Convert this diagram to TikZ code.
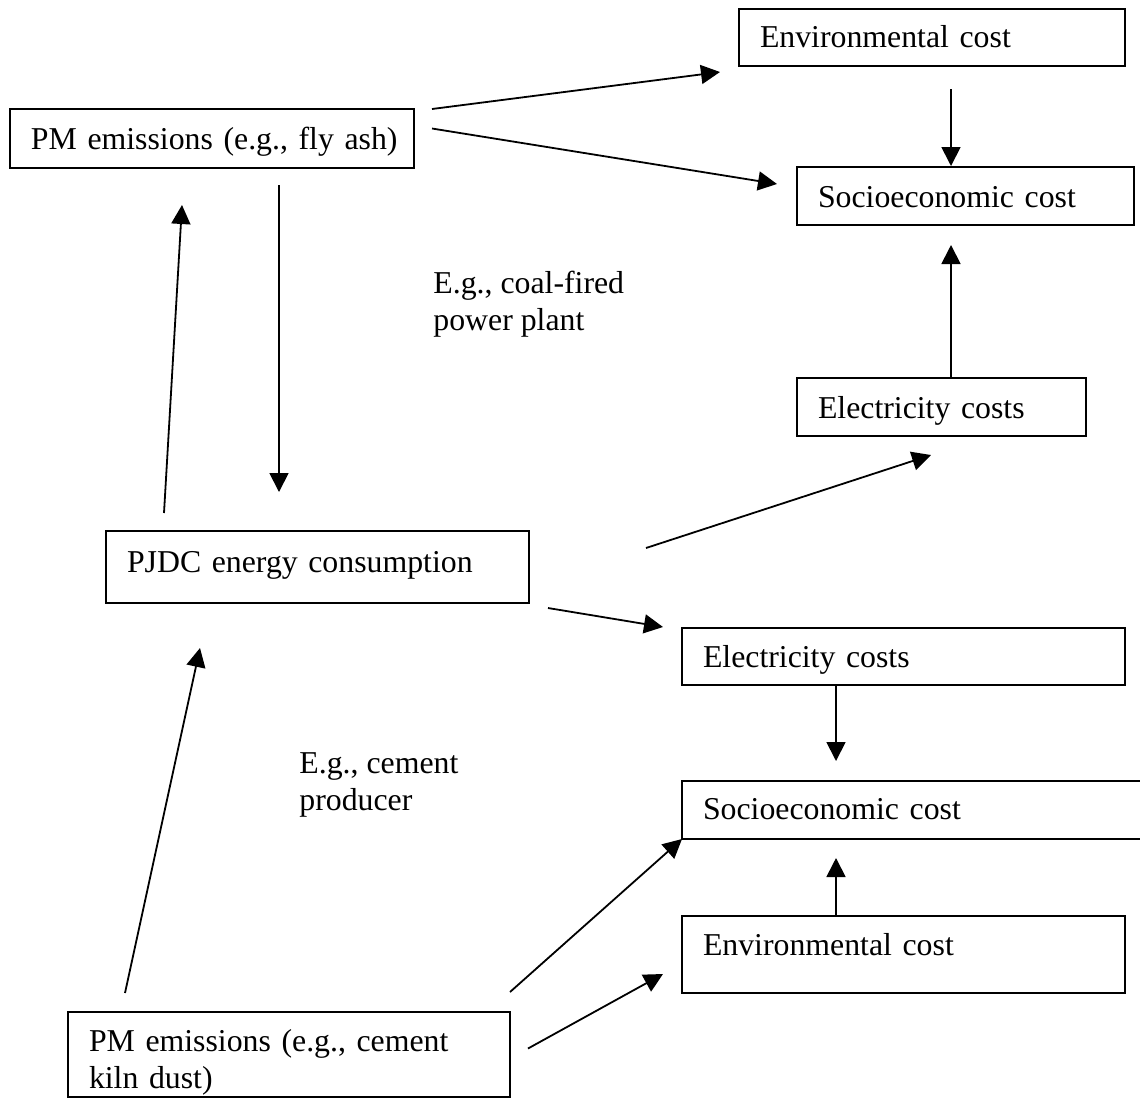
\documentclass[tikz,border=0pt]{standalone}
\usepackage{fontspec}
\setmainfont{Liberation Serif}
\usetikzlibrary{arrows.meta,calc}

\begin{document}
\begin{tikzpicture}[x=0.5pt,y=0.5pt,
  box/.style={draw,line width=0.9pt,outer sep=0pt,anchor=north west,align=left,inner xsep=10.5pt,inner ysep=0pt,font=\fontsize{15.9}{18.5}\selectfont},
  note/.style={anchor=base west,align=left,inner sep=0pt,font=\fontsize{15.9}{18.5}\selectfont},
  arr/.style={-{Triangle[length=9.5pt,width=9.5pt]},line width=0.9pt}]
\useasboundingbox (0,0) rectangle (1140,-1099);
\clip (0,0) rectangle (1140,-1099);
\node[box,text width=172pt,text height=19pt,text depth=9.5pt] (envtop) at (739,-9) {Environmental cost};
\node[box,text width=181pt,text height=20pt,text depth=9.5pt] (fly) at (10,-109) {\mbox{PM emissions (e.g., fly ash)}};
\node[box,text width=147.5pt,text height=20pt,text depth=9pt] (soctop) at (797,-167) {Socioeconomic cost};
\node[box,text width=123.5pt,text height=20pt,text depth=9pt] (elecr) at (797,-378) {Electricity costs};
\node[box,text width=190.5pt,text height=20.5pt,text depth=15.5pt] (pjdc) at (106,-531) {PJDC energy consumption};
\node[box,text width=200.5pt,text height=19.5pt,text depth=9pt] (elecm) at (682,-628) {Electricity costs};
\node[box,text width=219pt,text height=19pt,text depth=10pt] (socbot) at (682,-781) {Socioeconomic cost};
\node[box,text width=200.5pt,text height=19.5pt,text depth=19pt] (envbot) at (682,-916) {Environmental cost};
\node[box,text width=200pt,text height=19.5pt,text depth=23pt] (kiln) at (68,-1012) {PM emissions (e.g., cement\\kiln dust)};
\node[note] (coal) at (433,-330) {E.g., coal-fired\\power plant};
\node[note] (cement) at (299,-810) {E.g., cement\\producer};

\draw[arr] ($(fly.north east)+(18,0)$) -- ($(envtop.south west)+(-19,-6)$);
\draw[arr] ($(fly.east)+(18,10)$) -- ($(soctop.west)+(-20,12)$);
\draw[arr] ($(envtop.south)+(19,-23)$) -- ($(soctop.north)+(-14.5,1)$);
\draw[arr] ($(elecr.north)+(9.5,0)$) -- ($(soctop.south)+(-14.5,-20)$);
\draw[arr] ($(fly.south)+(67,-17)$) -- ($(pjdc.north)+(-38.5,39)$);
\draw[arr] ($(pjdc.north west)+(58,18)$) -- ($(fly.south)+(-30,-37)$);
\draw[arr] ($(pjdc.east)+(117,19)$) -- ($(elecr.south)+(-10.5,-19)$);
\draw[arr] ($(pjdc.south east)+(19,-5)$) -- ($(elecm.west)+(-19,29.5)$);
\draw[arr] ($(elecm.south)+(-67.5,0)$) -- ($(socbot.north west)+(154,20)$);
\draw[arr] ($(envbot.north)+(-67.5,0)$) -- ($(socbot.south west)+(154,-19)$);
\draw[arr] ($(kiln.north west)+(57,19)$) -- ($(pjdc.south)+(-117.5,-45)$);
\draw[arr] ($(kiln.north east)+(0,20)$) -- (socbot.south west);
\draw[arr] ($(kiln.east)+(18,6)$) -- ($(envbot.west)+(-19,-19.5)$);
\end{tikzpicture}
\end{document}
